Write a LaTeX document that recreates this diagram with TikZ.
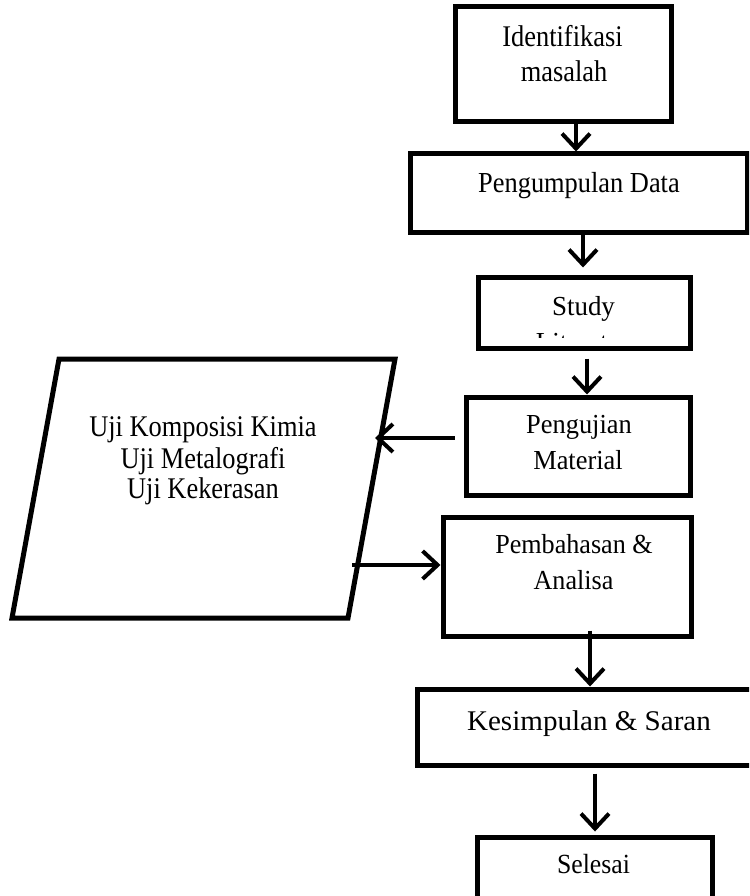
\documentclass[tikz,border=0pt]{standalone}
\usepackage{fontspec}
\setmainfont{Liberation Serif}
\usetikzlibrary{arrows.meta,calc}
\newcommand{\hsq}[2]{\scalebox{#1}[1]{#2}}
\begin{document}
\begin{tikzpicture}[x=1pt,y=-1pt,
  box/.style n args={2}{draw=black, line width=5pt, minimum width=#1, minimum height=#2, inner sep=0pt},
  txt/.style={font=\fontsize{30}{34}\selectfont, anchor=base, inner sep=0pt},
  arr/.style={line width=4pt, -{Straight Barb[length=15pt,width=28pt]}}]
\clip (0,0) rectangle (749,896);
\useasboundingbox (0,0) rectangle (749,896);
\fill[white] (0,0) rectangle (749,896);

% boxes
\node[box={216pt}{115pt}] (b1) at (563,64.5) {};
\node[box={337pt}{78pt}] (b2) at (578.5,193) {};
\node[box={212pt}{71pt}] (b3) at (584,312.5) {};
\node[box={224pt}{98pt}] (b4) at (578,446) {};
\node[box={248pt}{119pt}] (b5) at (567,576.5) {};
\node[box={340pt}{76pt}] (b6) at (587,727) {};
\node[box={235pt}{70pt}] (b7) at (594.5,872) {};

% parallelogram
\coordinate (p1) at (59,359);
\coordinate (p2) at (395,359);
\coordinate (p3) at (348,618);
\coordinate (p4) at (12,618);
\draw[line width=5pt, line join=miter] (p1) -- (p2) -- (p3) -- (p4) -- cycle;

% texts
\node[txt] (t1a) at (562.5,46.7) {\hsq{0.88}{Identifikasi}};
\node[txt] (t1b) at (564,81.7) {\hsq{0.88}{masalah}};
\node[txt, font=\fontsize{29}{34}\selectfont] (t2) at (579,192.5) {\hsq{0.91}{Pengumpulan Data}};
\node[txt, font=\fontsize{27.5}{32}\selectfont] (t3a) at (583.5,315) {\hsq{0.98}{Study}};
\begin{scope}
  \clip (481,330) rectangle (688,337.2);
  \node[txt, font=\fontsize{27.5}{32}\selectfont] (t3b) at (583,351) {\hsq{0.98}{Literatur}};
\end{scope}
\node[txt, font=\fontsize{27.5}{32}\selectfont] (t4a) at (579,433) {\hsq{0.96}{Pengujian}};
\node[txt, font=\fontsize{27.5}{32}\selectfont] (t4b) at (578,469) {\hsq{0.96}{Material}};
\node[txt, font=\fontsize{27.5}{32}\selectfont] (t5a) at (574,553) {\hsq{0.95}{Pembahasan \&}};
\node[txt, font=\fontsize{27.5}{32}\selectfont] (t5b) at (573.5,589) {\hsq{0.95}{Analisa}};
\node[txt] (tpa) at (203,436.5) {\hsq{0.88}{Uji Komposisi Kimia}};
\node[txt] (tpb) at (203,468) {\hsq{0.88}{Uji Metalografi}};
\node[txt] (tpc) at (203,498) {\hsq{0.88}{Uji Kekerasan}};
\node[txt, font=\fontsize{28.5}{34}\selectfont] (t6) at (589,730) {\hsq{1.02}{Kesimpulan \& Saran}};
\node[txt, font=\fontsize{27.7}{32}\selectfont] (t7) at (593.5,873.3) {\hsq{0.93}{Selesai}};

% arrow x positions
\coordinate (x1) at (576,0);
\coordinate (x2) at (583,0);
\coordinate (x3) at (587,0);
\coordinate (x5) at (590,0);
\coordinate (x6) at (595,0);
\coordinate (pa) at (375,438);
\coordinate (pb) at (352,565);

\draw[arr] (b1.south -| x1) -- (b2.north -| x1);
\draw[arr] (b2.south -| x2) -- ($(b3.north -| x2)+(0,-7)$);
\draw[arr] ($(b3.south -| x3)+(0,8)$) -- (b4.north -| x3);
\draw[arr] ($(b4.west |- pa)+(-9,0)$) -- (pa);
\draw[arr] (pb) -- (b5.west |- pb);
\draw[arr] ($(b5.south -| x5)+(0,-8)$) -- (b6.north -| x5);
\draw[arr] ($(b6.south -| x6)+(0,6)$) -- ($(b7.north -| x6)+(0,-3)$);
\end{tikzpicture}
\end{document}
